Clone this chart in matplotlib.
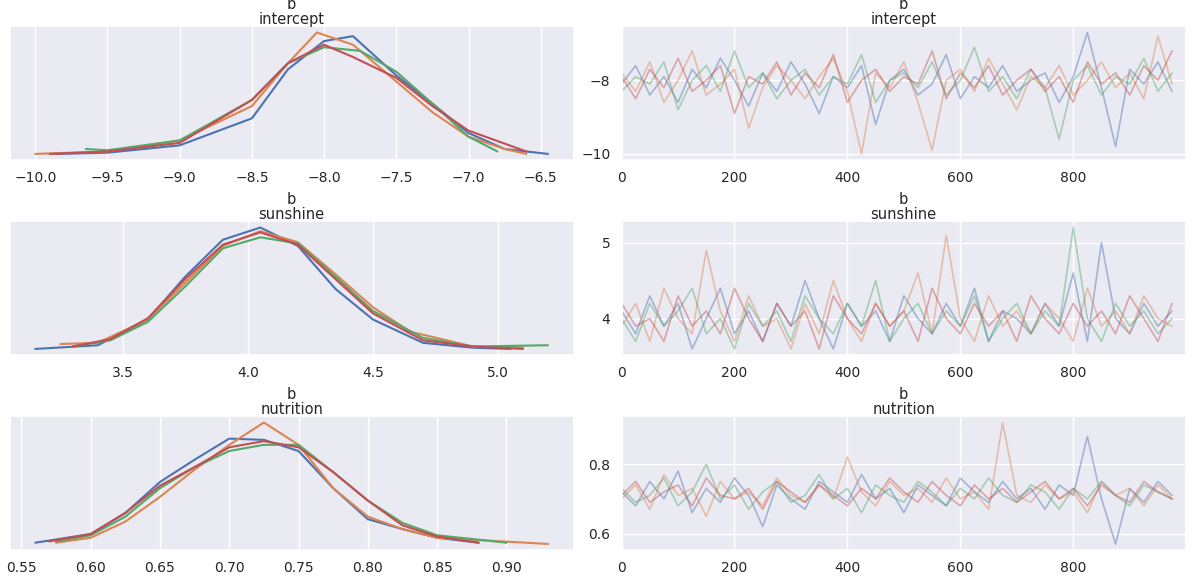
import matplotlib
matplotlib.use("Agg")
import matplotlib.pyplot as plt
import numpy as np
import seaborn as sns

sns.set_theme(style="darkgrid")
plt.rcParams['font.family'] = ['DejaVu Sans']

colors = ["#4c72b0", "#dd8452", "#55a868", "#c44e52"]
params = ["intercept", "sunshine", "nutrition"]

# density curves per chain (x, y)
dens_intercept = [
    ([-9.85, -9.5, -9, -8.5, -8.25, -8, -7.8, -7.5, -7.25, -7, -6.75, -6.45],
     [0.01, 0.02, 0.08, 0.3, 0.7, 0.93, 0.97, 0.65, 0.42, 0.18, 0.05, 0.01]),
    ([-10, -9.5, -9, -8.5, -8.25, -8.05, -7.8, -7.5, -7.25, -7, -6.75, -6.6],
     [0.01, 0.03, 0.12, 0.4, 0.75, 1.0, 0.9, 0.6, 0.35, 0.15, 0.05, 0.01]),
    ([-9.65, -9.5, -9, -8.5, -8.25, -8, -7.75, -7.5, -7.25, -7, -6.8],
     [0.05, 0.04, 0.12, 0.45, 0.75, 0.88, 0.85, 0.68, 0.42, 0.15, 0.03]),
    ([-9.9, -9.5, -9, -8.5, -8.25, -8.0, -7.8, -7.5, -7.25, -7, -6.6],
     [0.01, 0.03, 0.1, 0.45, 0.75, 0.9, 0.8, 0.63, 0.4, 0.2, 0.03]),
]
dens_sunshine = [
    ([3.15, 3.4, 3.6, 3.75, 3.9, 4.05, 4.2, 4.35, 4.5, 4.7, 4.9, 5.05],
     [0.01, 0.04, 0.25, 0.6, 0.9, 1.0, 0.85, 0.5, 0.25, 0.06, 0.02, 0.01]),
    ([3.25, 3.4, 3.6, 3.75, 3.9, 4.05, 4.2, 4.35, 4.5, 4.65, 4.9, 5.1],
     [0.05, 0.06, 0.25, 0.55, 0.85, 0.97, 0.88, 0.62, 0.35, 0.15, 0.03, 0.02]),
    ([3.3, 3.45, 3.6, 3.75, 3.9, 4.05, 4.2, 4.35, 4.5, 4.7, 4.9, 5.2],
     [0.03, 0.08, 0.23, 0.52, 0.83, 0.92, 0.87, 0.6, 0.32, 0.1, 0.03, 0.04]),
    ([3.3, 3.45, 3.6, 3.75, 3.9, 4.05, 4.2, 4.35, 4.5, 4.7, 4.9, 5.1],
     [0.03, 0.09, 0.26, 0.58, 0.86, 0.96, 0.86, 0.58, 0.3, 0.08, 0.03, 0.01]),
]
dens_nutrition = [
    ([0.56, 0.6, 0.625, 0.65, 0.675, 0.70, 0.725, 0.75, 0.775, 0.80, 0.825, 0.85, 0.88],
     [0.01, 0.08, 0.25, 0.5, 0.68, 0.85, 0.84, 0.75, 0.45, 0.2, 0.12, 0.05, 0.01]),
    ([0.575, 0.6, 0.625, 0.65, 0.675, 0.70, 0.725, 0.75, 0.775, 0.80, 0.825, 0.85, 0.93],
     [0.01, 0.05, 0.18, 0.38, 0.6, 0.8, 0.98, 0.8, 0.45, 0.22, 0.12, 0.05, 0.0]),
    ([0.575, 0.6, 0.625, 0.65, 0.675, 0.70, 0.725, 0.75, 0.775, 0.80, 0.825, 0.85, 0.9],
     [0.02, 0.07, 0.22, 0.45, 0.62, 0.75, 0.8, 0.8, 0.58, 0.35, 0.17, 0.07, 0.01]),
    ([0.57, 0.6, 0.625, 0.65, 0.675, 0.70, 0.725, 0.75, 0.775, 0.80, 0.825, 0.85, 0.88],
     [0.02, 0.08, 0.25, 0.47, 0.62, 0.78, 0.83, 0.78, 0.58, 0.35, 0.15, 0.06, 0.01]),
]

# trace samples (coarse, every 25 draws)
draws = list(range(0, 1000, 25))
trace_intercept = [
    [-8.1,-7.6,-8.4,-7.9,-8.6,-7.7,-8.2,-7.4,-8.0,-8.7,-7.8,-8.3,-7.5,-8.1,-8.9,-7.9,-8.2,-7.6,-9.2,-8.0,-7.7,-8.4,-8.1,-7.3,-8.5,-7.9,-8.2,-7.6,-8.3,-8.0,-7.8,-8.6,-7.9,-6.7,-8.2,-9.8,-7.7,-8.1,-7.5,-8.3],
    [-7.8,-8.3,-7.5,-8.6,-8.0,-7.2,-8.4,-8.1,-7.7,-9.3,-8.2,-7.6,-8.0,-8.5,-7.9,-7.4,-8.3,-10.0,-7.8,-8.2,-7.5,-8.6,-9.9,-8.0,-7.7,-8.3,-7.4,-8.1,-8.8,-7.9,-8.2,-7.6,-8.4,-8.0,-7.5,-8.2,-7.8,-8.5,-6.8,-8.1],
    [-8.3,-7.9,-8.1,-7.5,-8.8,-8.0,-7.6,-8.3,-7.2,-8.2,-7.8,-8.5,-8.0,-7.7,-8.4,-7.9,-8.1,-7.3,-8.6,-8.0,-7.8,-8.2,-7.5,-8.4,-8.0,-7.1,-8.3,-7.9,-8.5,-7.7,-8.2,-9.6,-8.0,-7.6,-8.4,-7.9,-8.1,-7.4,-8.3,-7.8],
    [-7.9,-8.5,-7.7,-8.2,-7.4,-8.3,-8.0,-7.6,-8.9,-7.9,-8.1,-7.5,-8.4,-7.8,-8.2,-7.3,-8.6,-8.0,-7.7,-8.3,-7.9,-8.1,-7.2,-8.5,-7.8,-8.2,-7.6,-8.4,-8.0,-7.7,-8.3,-7.9,-8.6,-7.5,-8.1,-7.8,-8.4,-7.6,-8.0,-7.2],
]
trace_sunshine = [
    [4.1,3.8,4.3,3.9,4.2,3.6,4.0,4.4,3.8,4.1,3.7,4.2,3.9,4.5,4.0,3.6,4.2,3.9,4.1,3.7,4.3,4.0,3.8,4.2,3.9,4.4,3.7,4.1,4.0,3.8,4.2,3.9,4.6,3.7,5.0,4.0,3.8,4.2,3.9,4.1],
    [3.9,4.2,3.7,4.4,4.0,3.8,4.9,4.1,3.7,4.3,3.9,4.0,3.6,4.2,3.8,4.5,4.0,3.7,4.2,3.9,4.1,4.6,3.8,5.1,4.0,3.7,4.3,3.9,4.1,3.8,4.2,4.0,3.7,4.4,3.9,4.1,3.8,4.3,4.0,3.9],
    [4.0,3.7,4.2,3.9,4.1,4.4,3.8,4.0,3.6,4.2,3.9,4.1,3.7,4.3,4.0,3.8,4.2,3.9,4.5,3.7,4.0,4.2,3.8,4.1,3.9,4.3,3.7,4.0,4.2,3.8,4.1,3.9,5.2,4.0,3.7,4.2,3.9,4.1,3.8,4.0],
    [4.2,3.9,4.0,3.7,4.3,3.9,4.1,3.8,4.4,4.0,3.7,4.2,3.9,4.1,3.6,4.3,4.0,3.8,4.2,3.9,4.1,3.7,4.4,4.0,3.8,4.2,3.9,4.1,3.7,4.3,4.0,3.8,4.2,3.9,4.1,3.8,4.3,4.0,3.7,4.2],
]
trace_nutrition = [
    [0.72,0.68,0.75,0.70,0.78,0.66,0.73,0.69,0.76,0.71,0.62,0.74,0.70,0.67,0.75,0.72,0.69,0.77,0.70,0.73,0.66,0.74,0.71,0.68,0.76,0.72,0.69,0.75,0.70,0.73,0.67,0.74,0.71,0.88,0.70,0.57,0.73,0.69,0.75,0.71],
    [0.70,0.74,0.67,0.77,0.71,0.73,0.65,0.75,0.70,0.72,0.68,0.76,0.71,0.69,0.74,0.70,0.82,0.72,0.68,0.75,0.71,0.73,0.69,0.76,0.70,0.72,0.67,0.92,0.71,0.69,0.74,0.70,0.72,0.66,0.75,0.71,0.73,0.68,0.74,0.70],
    [0.73,0.69,0.71,0.76,0.68,0.72,0.80,0.70,0.74,0.67,0.72,0.75,0.69,0.71,0.77,0.70,0.73,0.66,0.74,0.71,0.69,0.75,0.72,0.68,0.73,0.70,0.76,0.71,0.69,0.74,0.72,0.67,0.73,0.70,0.75,0.71,0.68,0.74,0.72,0.70],
    [0.71,0.75,0.69,0.72,0.74,0.68,0.76,0.71,0.70,0.73,0.67,0.75,0.72,0.69,0.74,0.71,0.68,0.73,0.70,0.76,0.72,0.69,0.75,0.71,0.68,0.74,0.70,0.73,0.69,0.72,0.75,0.70,0.73,0.68,0.74,0.71,0.69,0.75,0.72,0.70],
]

dens_all = [dens_intercept, dens_sunshine, dens_nutrition]
trace_all = [trace_intercept, trace_sunshine, trace_nutrition]
left_ticks = [np.arange(-10, -6.4, 0.5), np.arange(3.5, 5.01, 0.5), np.arange(0.55, 0.91, 0.05)]
right_yticks = [[-10, -8], [4, 5], [0.6, 0.8]]

fig, axes = plt.subplots(3, 2, figsize=(12, 5.87), dpi=100)
fig.subplots_adjust(left=0.008, right=0.988, top=0.955, bottom=0.063, hspace=0.46, wspace=0.085)

for i, p in enumerate(params):
    axl, axr = axes[i]
    for c, (x, y) in enumerate(dens_all[i]):
        axl.plot(x, y, color=colors[c], lw=1.5)
    axl.set_yticks([])
    axl.set_xticks(left_ticks[i])
    axl.set_title("b\n" + p, fontsize=10.5, linespacing=1.0, pad=2)
    for c, tr in enumerate(trace_all[i]):
        axr.plot(draws, tr, color=colors[c], lw=1.2, alpha=0.45)
    axr.set_xlim(0, 999)
    axr.set_xticks([0, 200, 400, 600, 800])
    axr.set_yticks(right_yticks[i])
    axr.set_title("b\n" + p, fontsize=10.5, linespacing=1.0, pad=2)
    for ax in (axl, axr):
        ax.tick_params(labelsize=10, pad=2)

fig.savefig("out.png")
